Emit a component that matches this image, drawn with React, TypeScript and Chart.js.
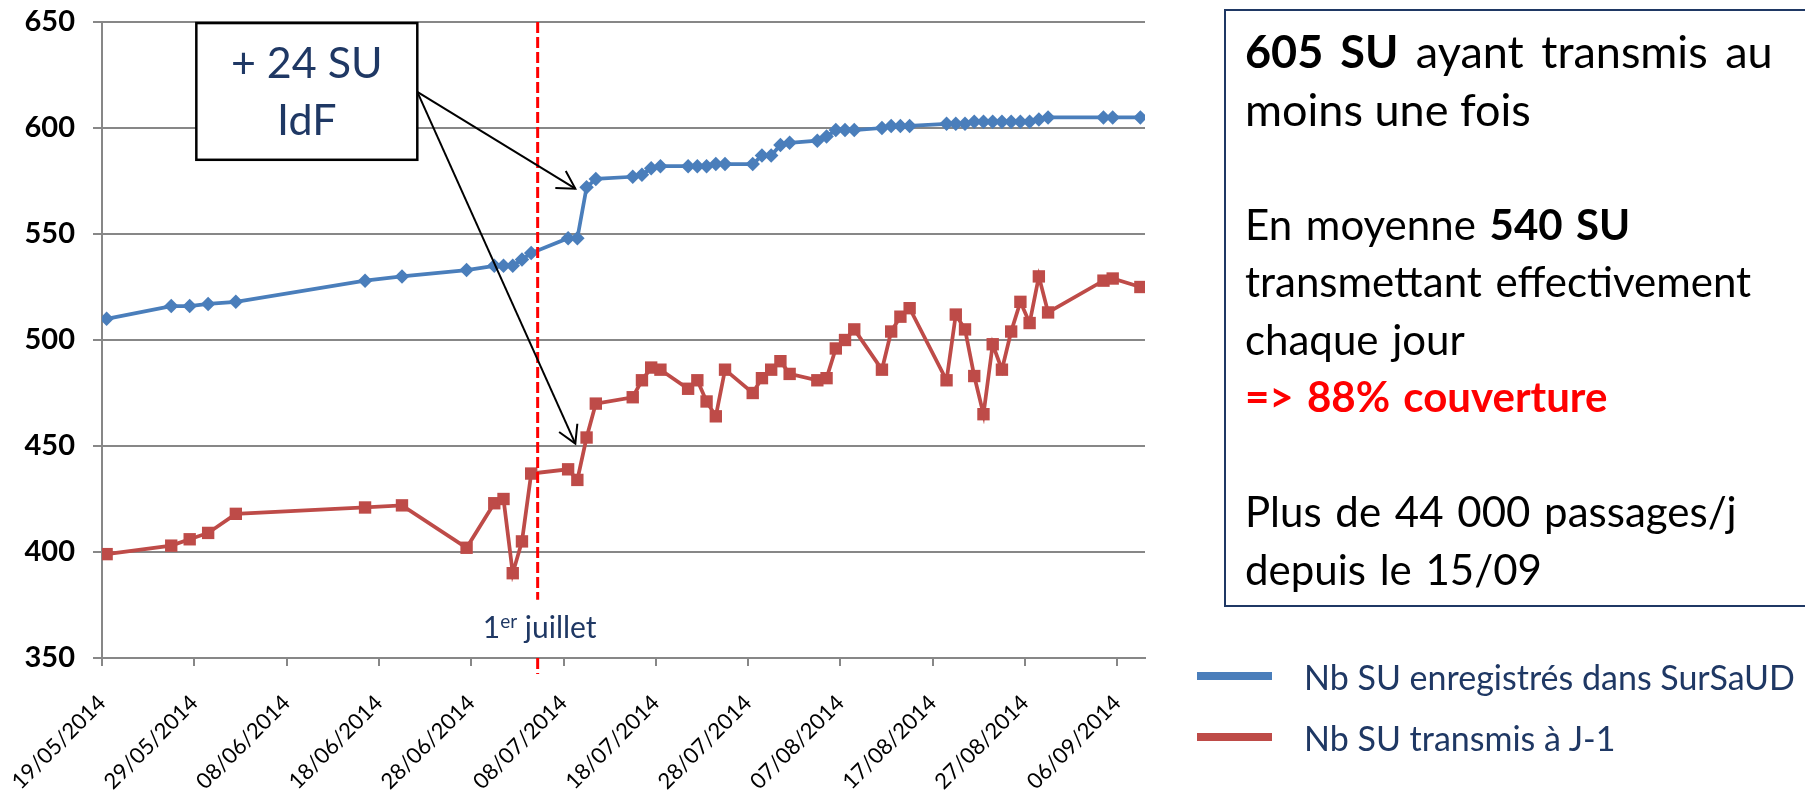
import React, { useEffect, useRef } from 'react';
import { Chart, registerables } from 'chart.js';

Chart.register(...registerables);

const FONT = 'Lato';
const NAVY = '#1F3864';
const GRID = '#878787';

// Dates (dd/mm, 2014)
const dates = [
  '19/05', '26/05', '28/05', '30/05', '02/06', '16/06', '20/06', '27/06', '30/06', '01/07',
  '02/07', '03/07', '04/07', '08/07', '09/07', '10/07', '11/07', '15/07', '16/07', '17/07',
  '18/07', '21/07', '22/07', '23/07', '24/07', '25/07', '28/07', '29/07', '30/07', '31/07',
  '01/08', '04/08', '05/08', '06/08', '07/08', '08/08', '11/08', '12/08', '13/08', '14/08',
  '18/08', '19/08', '20/08', '21/08', '22/08', '23/08', '24/08', '25/08', '26/08', '27/08',
  '28/08', '29/08', '04/09', '05/09', '08/09',
];

const registered = [
  510, 516, 516, 517, 518, 528, 530, 533, 535, 535,
  535, 538, 541, 548, 548, 572, 576, 577, 578, 581,
  582, 582, 582, 582, 583, 583, 583, 587, 587, 592,
  593, 594, 596, 599, 599, 599, 600, 601, 601, 601,
  602, 602, 602, 603, 603, 603, 603, 603, 603, 603,
  604, 605, 605, 605, 605,
];

const transmitted = [
  399, 403, 406, 409, 418, 421, 422, 402, 423, 425,
  390, 405, 437, 439, 434, 454, 470, 473, 481, 487,
  486, 477, 481, 471, 464, 486, 475, 482, 486, 490,
  484, 481, 482, 496, 500, 505, 486, 504, 511, 515,
  481, 512, 505, 483, 465, 498, 486, 504, 518, 508,
  530, 513, 528, 529, 525,
];

const tickLabels = [
  '19/05/2014', '29/05/2014', '08/06/2014', '18/06/2014', '28/06/2014', '08/07/2014',
  '18/07/2014', '28/07/2014', '07/08/2014', '17/08/2014', '27/08/2014', '06/09/2014',
];

const yTicks = [350, 400, 450, 500, 550, 600, 650];

const seriesNames = ['Nb SU enregistrés dans SurSaUD', 'Nb SU transmis à J-1'];
const seriesColors = ['#4A7EBB', '#BE4B48'];

const FIRST_DAY = '19/05/2014';
const LAST_DAY = '08/09/2014';

function dayIndex(s: string): number {
  const parts = s.split('/').map(Number);
  const y = parts[2] ?? 2014;
  const [d0, m0, y0] = FIRST_DAY.split('/').map(Number);
  return Math.round((Date.UTC(y, parts[1] - 1, parts[0]) - Date.UTC(y0, m0 - 1, d0)) / 86400000);
}

// Annotation anchors, in data units (day index, value)
const annotBox = { x0: 9.72, x1: 33.66, y0: 649.5, y1: 585 };
const annotLines = [
  { text: '+ 24 SU', y: 623.6 },
  { text: 'IdF', y: 596.8 },
];
const arrowStart = { x: 33.66, y: 617 };
const arrowTips = [
  { x: 50.78, y: 571.4 },
  { x: 50.78, y: 451.1 },
];
const julyLine = { x: 46.7, top: 650, gapTop: 377.5, gapBottom: 350, bottom: 342.5, labelY: 359.6 };

const annotationPlugin = {
  id: 'slideAnnotations',
  afterDatasetsDraw(chart: any) {
    const { ctx } = chart;
    const xs = chart.scales.x;
    const ys = chart.scales.y;
    const px = (v: number) => xs.getPixelForValue(v);
    const py = (v: number) => ys.getPixelForValue(v);
    ctx.save();

    // red dashed line
    const lx = px(julyLine.x);
    ctx.strokeStyle = '#FF0000';
    ctx.lineWidth = 3;
    ctx.setLineDash([11, 4]);
    ctx.beginPath();
    ctx.moveTo(lx, py(julyLine.top));
    ctx.lineTo(lx, py(julyLine.gapTop));
    ctx.stroke();
    ctx.beginPath();
    ctx.moveTo(lx, py(julyLine.gapBottom));
    ctx.lineTo(lx, py(julyLine.bottom));
    ctx.stroke();
    ctx.setLineDash([]);

    // "1er juillet" label
    const big = `30px ${FONT}`;
    const small = `19px ${FONT}`;
    ctx.fillStyle = NAVY;
    ctx.textBaseline = 'alphabetic';
    ctx.textAlign = 'left';
    ctx.font = big;
    const w1 = ctx.measureText('1').width;
    const w3 = ctx.measureText(' juillet').width;
    ctx.font = small;
    const w2 = ctx.measureText('er').width;
    const total = w1 + w2 + w3;
    let tx = lx + 2 - total / 2;
    const by = py(julyLine.labelY);
    ctx.font = big;
    ctx.fillText('1', tx, by);
    tx += w1;
    ctx.font = small;
    ctx.fillText('er', tx, by - 10);
    tx += w2;
    ctx.font = big;
    ctx.fillText(' juillet', tx, by);

    // arrows
    ctx.strokeStyle = '#000';
    ctx.lineWidth = 2;
    const sx = px(arrowStart.x);
    const sy = py(arrowStart.y);
    arrowTips.forEach((t) => {
      const ex = px(t.x);
      const ey = py(t.y);
      ctx.beginPath();
      ctx.moveTo(sx, sy);
      ctx.lineTo(ex, ey);
      ctx.stroke();
      const ang = Math.atan2(sy - ey, sx - ex);
      const L = 20;
      const a = Math.PI / 6;
      ctx.beginPath();
      ctx.moveTo(ex + L * Math.cos(ang - a), ey + L * Math.sin(ang - a));
      ctx.lineTo(ex, ey);
      ctx.lineTo(ex + L * Math.cos(ang + a), ey + L * Math.sin(ang + a));
      ctx.stroke();
    });

    // callout box
    const bx0 = px(annotBox.x0);
    const bx1 = px(annotBox.x1);
    const by0 = py(annotBox.y0);
    const by1 = py(annotBox.y1);
    ctx.fillStyle = '#FFFFFF';
    ctx.fillRect(bx0, by0, bx1 - bx0, by1 - by0);
    ctx.strokeStyle = '#000';
    ctx.lineWidth = 2.5;
    ctx.strokeRect(bx0, by0, bx1 - bx0, by1 - by0);
    ctx.fillStyle = NAVY;
    ctx.font = `43px ${FONT}`;
    ctx.textAlign = 'center';
    annotLines.forEach((l) => {
      ctx.fillText(l.text, (bx0 + bx1) / 2, py(l.y));
    });
    ctx.restore();
  },
};

export default function App() {
  const canvasRef = useRef<HTMLCanvasElement | null>(null);

  useEffect(() => {
    document.body.style.margin = '0';
    let chart: Chart | null = null;
    let cancelled = false;
    const tickDays = tickLabels.map(dayIndex);
    const lastDay = dayIndex(LAST_DAY);

    const build = () => {
      if (cancelled || !canvasRef.current) return;
      chart = new Chart(canvasRef.current, {
        type: 'line',
        data: {
          datasets: [registered, transmitted].map((vals, k) => ({
            label: seriesNames[k],
            data: dates.map((d, i) => ({ x: dayIndex(d + '/2014'), y: vals[i] })),
            borderColor: seriesColors[k],
            backgroundColor: seriesColors[k],
            borderWidth: 3.75,
            pointStyle: k === 0 ? 'rectRot' : 'rect',
            pointRadius: k === 0 ? 7.25 : 8.75,
            pointBorderWidth: 0,
            pointBackgroundColor: seriesColors[k],
            tension: 0,
          })),
        },
        options: {
          animation: false,
          responsive: false,
          layout: { padding: { top: 22, right: 660, left: 0, bottom: 0 } },
          plugins: {
            legend: { display: false },
            tooltip: { enabled: false },
          },
          scales: {
            x: {
              type: 'linear',
              min: -0.5,
              max: lastDay + 0.5,
              afterBuildTicks: (s: any) => {
                s.ticks = tickDays.map((d) => ({ value: d - 0.5 }));
              },
              afterFit: (s: any) => {
                s.height = 135;
                s.paddingLeft = 0;
                s.paddingRight = 0;
              },
              ticks: {
                autoSkip: false,
                maxRotation: 45,
                minRotation: 45,
                color: '#000',
                padding: 24,
                font: { family: FONT, size: 22 },
                callback: (_v: any, i: number) => tickLabels[i],
              },
              grid: {
                drawOnChartArea: false,
                drawTicks: true,
                tickLength: 8,
                color: GRID,
                lineWidth: 2,
              },
              border: { display: true, color: GRID, width: 2 },
            },
            y: {
              min: yTicks[0],
              max: yTicks[yTicks.length - 1],
              afterBuildTicks: (s: any) => {
                s.ticks = yTicks.map((v) => ({ value: v }));
              },
              afterFit: (s: any) => {
                s.width = 102;
                s.paddingTop = 0;
                s.paddingBottom = 0;
              },
              ticks: {
                color: '#000',
                padding: 18,
                font: { family: FONT, size: 29, weight: 'bold' },
              },
              grid: { color: GRID, lineWidth: 2, tickLength: 9, drawTicks: true },
              border: { display: true, color: GRID, width: 2 },
            },
          },
        },
        plugins: [annotationPlugin],
      } as any);
    };

    const fontsReady = (document as any).fonts
      ? Promise.all([
          (document as any).fonts.load(`22px ${FONT}`),
          (document as any).fonts.load(`bold 29px ${FONT}`),
          (document as any).fonts.load(`43px ${FONT}`),
        ]).catch(() => null)
      : Promise.resolve(null);
    fontsReady.then(build);

    return () => {
      cancelled = true;
      if (chart) chart.destroy();
    };
  }, []);

  const textStyle: React.CSSProperties = {
    fontFamily: FONT,
    fontSize: 42,
    lineHeight: '57.5px',
    color: '#000',
    whiteSpace: 'nowrap',
    wordSpacing: 3,
  };

  return (
    <div style={{ position: 'fixed', left: 0, top: 0, width: 1805, height: 793, overflow: 'hidden', background: '#fff' }}>
      <canvas ref={canvasRef} width={1805} height={793} style={{ position: 'absolute', left: 0, top: 0 }} />
      <div
        style={{
          position: 'absolute',
          left: 1224,
          top: 9,
          width: 620,
          height: 582,
          border: `2px solid ${NAVY}`,
          boxSizing: 'content-box',
          paddingTop: 12,
          paddingLeft: 19,
          ...textStyle,
        }}
      >
        <div style={{ fontSize: 45, wordSpacing: 6 }}><b>605 SU</b> ayant transmis au</div>
        <div style={{ fontSize: 45, wordSpacing: 0 }}>moins une fois</div>
        <div>&nbsp;</div>
        <div>En moyenne <b>540 SU</b></div>
        <div>transmettant effectivement</div>
        <div>chaque jour</div>
        <div style={{ color: '#FF0000', fontWeight: 'bold' }}>=&gt; 88% couverture</div>
        <div>&nbsp;</div>
        <div>Plus de 44 000 passages/j</div>
        <div>depuis le 15/09</div>
      </div>
      {seriesNames.map((name, k) => (
        <div key={name} style={{ position: 'absolute', left: 1197, top: 676 + k * 61 - 20, height: 40, display: 'flex', alignItems: 'center' }}>
          <div style={{ width: 75, height: 8, background: seriesColors[k] }} />
          <div style={{ marginLeft: 32, fontFamily: FONT, fontSize: 34, color: NAVY, whiteSpace: 'nowrap' }}>{name}</div>
        </div>
      ))}
    </div>
  );
}
